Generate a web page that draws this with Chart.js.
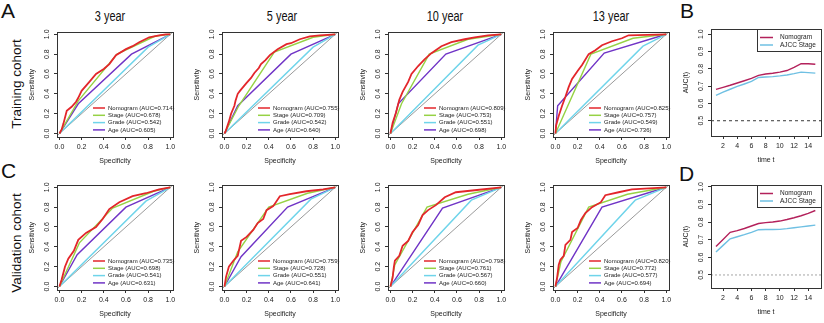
<!DOCTYPE html>
<html lang="en">

<head>
    <meta charset="UTF-8">
    <title>Curvas ROC - Nomogram</title>
    <script src="https://cdn.jsdelivr.net/npm/chart.js"></script>
    <style>
        body { margin: 0; background: #fff; }
        #figura {
            position: relative; width: 824px; height: 323px; overflow: hidden; background: #fff;
            font-family: "Liberation Sans", Arial, Helvetica, sans-serif; color: #111;
        }
        #figura canvas { position: absolute; }
        .letra { position: absolute; font-size: 21px; line-height: 1; }
        .titulo {
            position: absolute; font-size: 14px; line-height: 1; white-space: nowrap;
            transform: translateX(-50%) scaleX(0.78);
        }
        .coorte {
            position: absolute; font-size: 13.5px; line-height: 1; white-space: nowrap;
            transform: translate(-50%, -50%) rotate(-90deg);
        }
    </style>
</head>

<body>
    <div id="figura">
        <div class="letra" style="left:1px; top:0px">A</div>
        <div class="letra" style="left:680px; top:0px">B</div>
        <div class="letra" style="left:1px; top:160px">C</div>
        <div class="letra" style="left:679px; top:163px">D</div>

        <div class="titulo" style="left:110px; top:9px">3 year</div>
        <div class="titulo" style="left:282px; top:9px">5 year</div>
        <div class="titulo" style="left:445px; top:9px">10 year</div>
        <div class="titulo" style="left:611px; top:9px">13 year</div>

        <div class="coorte" style="left:17px; top:84px">Training cohort</div>
        <div class="coorte" style="left:17px; top:243px">Validation cohort</div>

        <canvas id="roc_t3"></canvas>
        <canvas id="roc_t5"></canvas>
        <canvas id="roc_t10"></canvas>
        <canvas id="roc_t13"></canvas>
        <canvas id="roc_v3"></canvas>
        <canvas id="roc_v5"></canvas>
        <canvas id="roc_v10"></canvas>
        <canvas id="roc_v13"></canvas>
        <canvas id="auc_treino"></canvas>
        <canvas id="auc_valid"></canvas>
    </div>

    <script>
        // ---------------- dados ----------------
        const nomesModelos = ['Nomogram', 'Stage', 'Grade', 'Age'];
        const ticksROC = [0, 0.2, 0.4, 0.6, 0.8, 1.0];

        // AUC (Nomogram, Stage, Grade, Age) para 3, 5, 10 e 13 anos
        const aucTreino = [
            [0.714, 0.678, 0.542, 0.605],
            [0.755, 0.709, 0.542, 0.640],
            [0.809, 0.753, 0.551, 0.698],
            [0.825, 0.757, 0.549, 0.736]
        ];
        const aucValid = [
            [0.735, 0.698, 0.541, 0.631],
            [0.759, 0.728, 0.551, 0.641],
            [0.798, 0.761, 0.567, 0.660],
            [0.820, 0.772, 0.577, 0.694]
        ];

        // curvas ROC, pares [1 - especificidade, sensibilidade]
        const treinoNomogram3 = [[0, 0], [0.02, 0.04], [0.036, 0.1], [0.066, 0.23], [0.11, 0.27], [0.15, 0.32], [0.17, 0.36], [0.2, 0.43], [0.27, 0.52], [0.33, 0.6], [0.4, 0.65], [0.45, 0.7], [0.51, 0.79], [0.6, 0.85], [0.66, 0.88], [0.72, 0.92], [0.81, 0.97], [0.9, 0.99], [0.96, 1], [1, 1]];
        const treinoStage3 = [[0, 0], [0.17, 0.33], [0.52, 0.8], [0.86, 0.98], [1, 1]];
        const treinoGrade3 = [[0, 0], [0.8, 0.87], [1, 1]];
        const treinoAge3 = [[0, 0], [0.17, 0.3], [0.65, 0.8], [1, 1]];

        const treinoNomogram5 = [[0, 0], [0.01, 0.02], [0.04, 0.12], [0.06, 0.2], [0.09, 0.28], [0.1, 0.33], [0.12, 0.4], [0.14, 0.43], [0.2, 0.51], [0.24, 0.56], [0.27, 0.61], [0.31, 0.66], [0.33, 0.7], [0.37, 0.74], [0.41, 0.79], [0.48, 0.85], [0.56, 0.9], [0.6, 0.91], [0.68, 0.95], [0.77, 0.98], [0.86, 0.99], [1, 1]];
        const treinoStage5 = [[0, 0], [0.13, 0.28], [0.45, 0.82], [0.8, 0.97], [1, 1]];
        const treinoGrade5 = [[0, 0], [0.8, 0.87], [1, 1]];
        const treinoAge5 = [[0, 0], [0.12, 0.28], [0.6, 0.8], [1, 1]];

        const treinoNomogram10 = [[0, 0], [0.02, 0.11], [0.05, 0.21], [0.08, 0.34], [0.11, 0.42], [0.16, 0.52], [0.19, 0.6], [0.25, 0.68], [0.31, 0.75], [0.37, 0.81], [0.46, 0.88], [0.55, 0.92], [0.67, 0.95], [0.76, 0.97], [0.88, 0.99], [1, 1]];
        const treinoStage10 = [[0, 0], [0.1, 0.3], [0.35, 0.8], [0.7, 0.95], [1, 1]];
        const treinoGrade10 = [[0, 0], [0.79, 0.89], [1, 1]];
        const treinoAge10 = [[0, 0], [0.07, 0.3], [0.5, 0.8], [1, 1]];

        const treinoNomogram13 = [[0, 0], [0.006, 0.08], [0.03, 0.18], [0.06, 0.28], [0.09, 0.37], [0.12, 0.47], [0.15, 0.55], [0.2, 0.63], [0.24, 0.69], [0.3, 0.8], [0.36, 0.84], [0.42, 0.89], [0.51, 0.93], [0.6, 0.96], [0.66, 0.99], [1, 1]];
        const treinoStage13 = [[0, 0], [0.32, 0.8], [0.7, 0.96], [1, 1]];
        const treinoGrade13 = [[0, 0], [0.79, 0.88], [1, 1]];
        const treinoAge13 = [[0, 0], [0.02, 0.28], [0.44, 0.81], [1, 1]];

        const validNomogram3 = [[0, 0], [0.02, 0.07], [0.05, 0.2], [0.08, 0.28], [0.13, 0.36], [0.17, 0.47], [0.24, 0.54], [0.33, 0.6], [0.39, 0.68], [0.45, 0.78], [0.54, 0.85], [0.66, 0.91], [0.78, 0.94], [0.9, 0.98], [1, 1]];
        const validStage3 = [[0, 0], [0.18, 0.44], [0.48, 0.79], [0.85, 0.96], [1, 1]];
        const validGrade3 = [[0, 0], [0.78, 0.86], [1, 1]];
        const validAge3 = [[0, 0], [0.16, 0.32], [0.6, 0.8], [1, 1]];

        const validNomogram5 = [[0, 0], [0.015, 0.1], [0.04, 0.2], [0.08, 0.26], [0.12, 0.31], [0.15, 0.46], [0.2, 0.5], [0.26, 0.57], [0.3, 0.64], [0.35, 0.68], [0.38, 0.77], [0.44, 0.81], [0.5, 0.91], [0.59, 0.93], [0.74, 0.96], [0.89, 0.98], [1, 1]];
        const validStage5 = [[0, 0], [0.12, 0.35], [0.4, 0.8], [0.75, 0.94], [1, 1]];
        const validGrade5 = [[0, 0], [0.78, 0.88], [1, 1]];
        const validAge5 = [[0, 0], [0.15, 0.3], [0.57, 0.8], [1, 1]];

        const validNomogram10 = [[0, 0], [0.02, 0.09], [0.03, 0.19], [0.04, 0.26], [0.08, 0.31], [0.11, 0.41], [0.16, 0.46], [0.2, 0.55], [0.25, 0.62], [0.29, 0.72], [0.34, 0.77], [0.41, 0.82], [0.49, 0.9], [0.59, 0.95], [0.76, 0.97], [1, 1]];
        const validStage10 = [[0, 0], [0.04, 0.22], [0.33, 0.8], [0.7, 0.93], [1, 1]];
        const validGrade10 = [[0, 0], [0.73, 0.87], [1, 1]];
        const validAge10 = [[0, 0], [0.47, 0.79], [1, 1]];

        const validNomogram13 = [[0, 0], [0.015, 0.09], [0.03, 0.22], [0.045, 0.27], [0.075, 0.31], [0.09, 0.42], [0.135, 0.47], [0.15, 0.55], [0.2, 0.59], [0.23, 0.67], [0.27, 0.74], [0.33, 0.8], [0.41, 0.85], [0.45, 0.92], [0.57, 0.95], [0.69, 0.98], [1, 1]];
        const validStage13 = [[0, 0], [0.05, 0.25], [0.3, 0.8], [0.65, 0.93], [1, 1]];
        const validGrade13 = [[0, 0], [0.72, 0.87], [1, 1]];
        const validAge13 = [[0, 0], [0.42, 0.8], [1, 1]];

        // AUC dependente do tempo (B e D)
        const tempos = [1, 2, 3, 4, 5, 6, 7, 8, 9, 10, 11, 12, 13, 14, 15];
        const ticksTempo = [2, 4, 6, 8, 10, 12, 14];
        const ticksAUC = [0.5, 0.6, 0.7, 0.8, 0.9, 1.0];
        const nomesTempo = ['Nomogram', 'AJCC Stage'];
        const treinoTempoNomogram = [0.681, 0.693, 0.705, 0.718, 0.731, 0.745, 0.762, 0.770, 0.774, 0.781, 0.790, 0.808, 0.830, 0.829, 0.826];
        const treinoTempoStage = [0.647, 0.665, 0.682, 0.698, 0.712, 0.727, 0.750, 0.753, 0.755, 0.759, 0.764, 0.772, 0.781, 0.778, 0.775];
        const validTempoNomogram = [0.662, 0.702, 0.742, 0.752, 0.764, 0.778, 0.792, 0.797, 0.801, 0.806, 0.815, 0.825, 0.836, 0.850, 0.866];
        const validTempoStage = [0.630, 0.668, 0.705, 0.717, 0.729, 0.742, 0.757, 0.758, 0.758, 0.759, 0.763, 0.768, 0.773, 0.778, 0.783];
        const aucReferencia = 0.5;

        // ---------------- desenho ----------------
        Chart.defaults.font.family = '"Liberation Sans", Arial, Helvetica, sans-serif';
        Chart.defaults.color = '#222';

        const coresROC = ['#e3262b', '#96d245', '#6fd4ea', '#7034c6'];
        const coresTempo = ['#b3215b', '#6fc0e3'];
        const limiteROCx = [-0.022, 1.025];
        const limiteROCy = [-0.035, 1.02];
        const limiteTempo = [0.3, 15.8];

        const moldura = {
            id: 'moldura',
            afterDatasetsDraw(chart) {
                const a = chart.chartArea, ctx = chart.ctx;
                ctx.save();
                ctx.strokeStyle = '#333';
                ctx.lineWidth = 1;
                ctx.strokeRect(Math.round(a.left) + 0.5, Math.round(a.top) + 0.5,
                    Math.round(a.right - a.left), Math.round(a.bottom - a.top));
                ctx.restore();
            }
        };

        function legendaROC(itens) {
            return {
                id: 'legendaROC',
                afterDraw(chart) {
                    const a = chart.chartArea, ctx = chart.ctx;
                    ctx.save();
                    ctx.font = '6px "Liberation Sans", Arial, sans-serif';
                    ctx.textBaseline = 'middle';
                    itens.forEach(function (item, i) {
                        const y = a.bottom - 29 + i * 7.3;
                        ctx.strokeStyle = item.cor;
                        ctx.lineWidth = 1.5;
                        ctx.beginPath();
                        ctx.moveTo(a.left + 36, y);
                        ctx.lineTo(a.left + 48, y);
                        ctx.stroke();
                        ctx.fillStyle = '#222';
                        ctx.fillText(item.texto, a.left + 51, y);
                    });
                    ctx.restore();
                }
            };
        }

        function legendaTempo(itens) {
            return {
                id: 'legendaTempo',
                afterDraw(chart) {
                    const a = chart.chartArea, ctx = chart.ctx;
                    const x0 = Math.round(a.right) - 64, y0 = Math.round(a.top);
                    ctx.save();
                    ctx.fillStyle = '#fff';
                    ctx.fillRect(x0, y0, 64, 22);
                    ctx.strokeStyle = '#333';
                    ctx.lineWidth = 1;
                    ctx.strokeRect(x0 + 0.5, y0 + 0.5, 64, 22);
                    ctx.font = '6.5px "Liberation Sans", Arial, sans-serif';
                    ctx.textBaseline = 'middle';
                    itens.forEach(function (item, i) {
                        const y = y0 + 8.5 + i * 7.5;
                        ctx.strokeStyle = item.cor;
                        ctx.lineWidth = 1.5;
                        ctx.beginPath();
                        ctx.moveTo(x0 + 3, y);
                        ctx.lineTo(x0 + 16, y);
                        ctx.stroke();
                        ctx.fillStyle = '#222';
                        ctx.fillText(item.texto, x0 + 23, y);
                    });
                    ctx.restore();
                }
            };
        }

        function eixo(limite, ticks, casas, titulo, vertical) {
            return {
                type: 'linear', min: limite[0], max: limite[1], bounds: 'data',
                afterBuildTicks: function (ax) { ax.ticks = ticks.map(v => ({ value: v })); },
                afterFit: function (ax) { if (vertical) ax.width = 36; else ax.height = 30; },
                grid: { drawOnChartArea: false, drawTicks: true, tickLength: 3, tickColor: '#333', lineWidth: 1 },
                border: { display: false },
                ticks: {
                    autoSkip: false, font: { size: 7 }, color: '#222',
                    padding: vertical ? 2.1 : 2.8,
                    minRotation: vertical ? 90 : 0, maxRotation: vertical ? 90 : 0,
                    crossAlign: vertical ? 'center' : 'near',
                    callback: v => Number(v).toFixed(casas)
                },
                title: {
                    display: true, text: titulo, font: { size: 7 }, color: '#222',
                    padding: vertical ? { top: 6.8, bottom: 0 } : { top: 0, bottom: 1.3 }
                }
            };
        }

        function posicionar(id, caixa) {
            const tela = document.getElementById(id);
            tela.width = caixa[2] + 39;
            tela.height = caixa[3] + 34;
            tela.style.left = (caixa[0] - 36) + 'px';
            tela.style.top = (caixa[1] - 4) + 'px';
            return tela;
        }

        function graficoROC(id, caixa, curvas, aucs) {
            const tela = posicionar(id, caixa);
            const conjuntos = curvas.map((curva, i) => ({
                label: nomesModelos[i],
                data: curva.map(p => ({ x: p[0], y: p[1] })),
                borderColor: coresROC[i],
                borderWidth: i === 0 ? 1.8 : 1.4,
                showLine: true, pointRadius: 0, fill: false
            }));
            conjuntos.push({
                label: 'diagonal',
                data: limiteROCx.map(v => ({ x: v, y: v })),
                borderColor: '#9a9a9a', borderWidth: 1,
                showLine: true, pointRadius: 0, fill: false
            });
            const itens = nomesModelos.map((nome, i) => ({
                cor: coresROC[i],
                texto: nome + ' (AUC=' + aucs[i].toFixed(3) + ')'
            }));

            new Chart(tela, {
                type: 'scatter',
                data: { datasets: conjuntos },
                options: {
                    responsive: false, animation: false,
                    layout: { padding: { left: 0, top: 4, right: 3, bottom: 0 } },
                    plugins: { legend: { display: false }, tooltip: { enabled: false } },
                    scales: {
                        x: eixo(limiteROCx, ticksROC, 1, 'Specificity', false),
                        y: eixo(limiteROCy, ticksROC, 1, 'Sensitivity', true)
                    }
                },
                plugins: [moldura, legendaROC(itens)]
            });
        }

        function graficoTempo(id, caixa, limiteY, nomogram, estagio, corRef, tracejado) {
            const tela = posicionar(id, caixa);
            const series = [nomogram, estagio];
            const conjuntos = series.map((serie, i) => ({
                label: nomesTempo[i],
                data: serie.map((v, k) => ({ x: tempos[k], y: v })),
                borderColor: coresTempo[i], borderWidth: 1.4,
                showLine: true, pointRadius: 0, fill: false
            }));
            conjuntos.push({
                label: 'referencia',
                data: limiteTempo.map(t => ({ x: t, y: aucReferencia })),
                borderColor: corRef, borderWidth: 0.9, borderDash: tracejado,
                showLine: true, pointRadius: 0, fill: false
            });
            const itens = nomesTempo.map((nome, i) => ({ cor: coresTempo[i], texto: nome }));

            new Chart(tela, {
                type: 'scatter',
                data: { datasets: conjuntos },
                options: {
                    responsive: false, animation: false,
                    layout: { padding: { left: 0, top: 4, right: 3, bottom: 0 } },
                    plugins: { legend: { display: false }, tooltip: { enabled: false } },
                    scales: {
                        x: eixo(limiteTempo, ticksTempo, 0, 'time t', false),
                        y: eixo(limiteY, ticksAUC, 1, 'AUC(t)', true)
                    }
                },
                plugins: [moldura, legendaTempo(itens)]
            });
        }

        // caixas dos gráficos: [esquerda, topo, largura, altura]
        const esquerdas = [57, 222, 388, 553];
        const curvasTreino = [
            [treinoNomogram3, treinoStage3, treinoGrade3, treinoAge3],
            [treinoNomogram5, treinoStage5, treinoGrade5, treinoAge5],
            [treinoNomogram10, treinoStage10, treinoGrade10, treinoAge10],
            [treinoNomogram13, treinoStage13, treinoGrade13, treinoAge13]
        ];
        const curvasValid = [
            [validNomogram3, validStage3, validGrade3, validAge3],
            [validNomogram5, validStage5, validGrade5, validAge5],
            [validNomogram10, validStage10, validGrade10, validAge10],
            [validNomogram13, validStage13, validGrade13, validAge13]
        ];
        const idsTreino = ['roc_t3', 'roc_t5', 'roc_t10', 'roc_t13'];
        const idsValid = ['roc_v3', 'roc_v5', 'roc_v10', 'roc_v13'];

        for (let i = 0; i < 4; i++) {
            graficoROC(idsTreino[i], [esquerdas[i], 30, 118, 107], curvasTreino[i], aucTreino[i]);
            graficoROC(idsValid[i], [esquerdas[i], 183, 118, 107], curvasValid[i], aucValid[i]);
        }

        graficoTempo('auc_treino', [711, 27, 110, 109], [0.412, 1.028],
            treinoTempoNomogram, treinoTempoStage, '#222', [3, 3]);
        graficoTempo('auc_valid', [711, 183, 110, 105], [0.426, 1.009],
            validTempoNomogram, validTempoStage, '#9a9a9a', [2, 2]);
    </script>
</body>

</html>
